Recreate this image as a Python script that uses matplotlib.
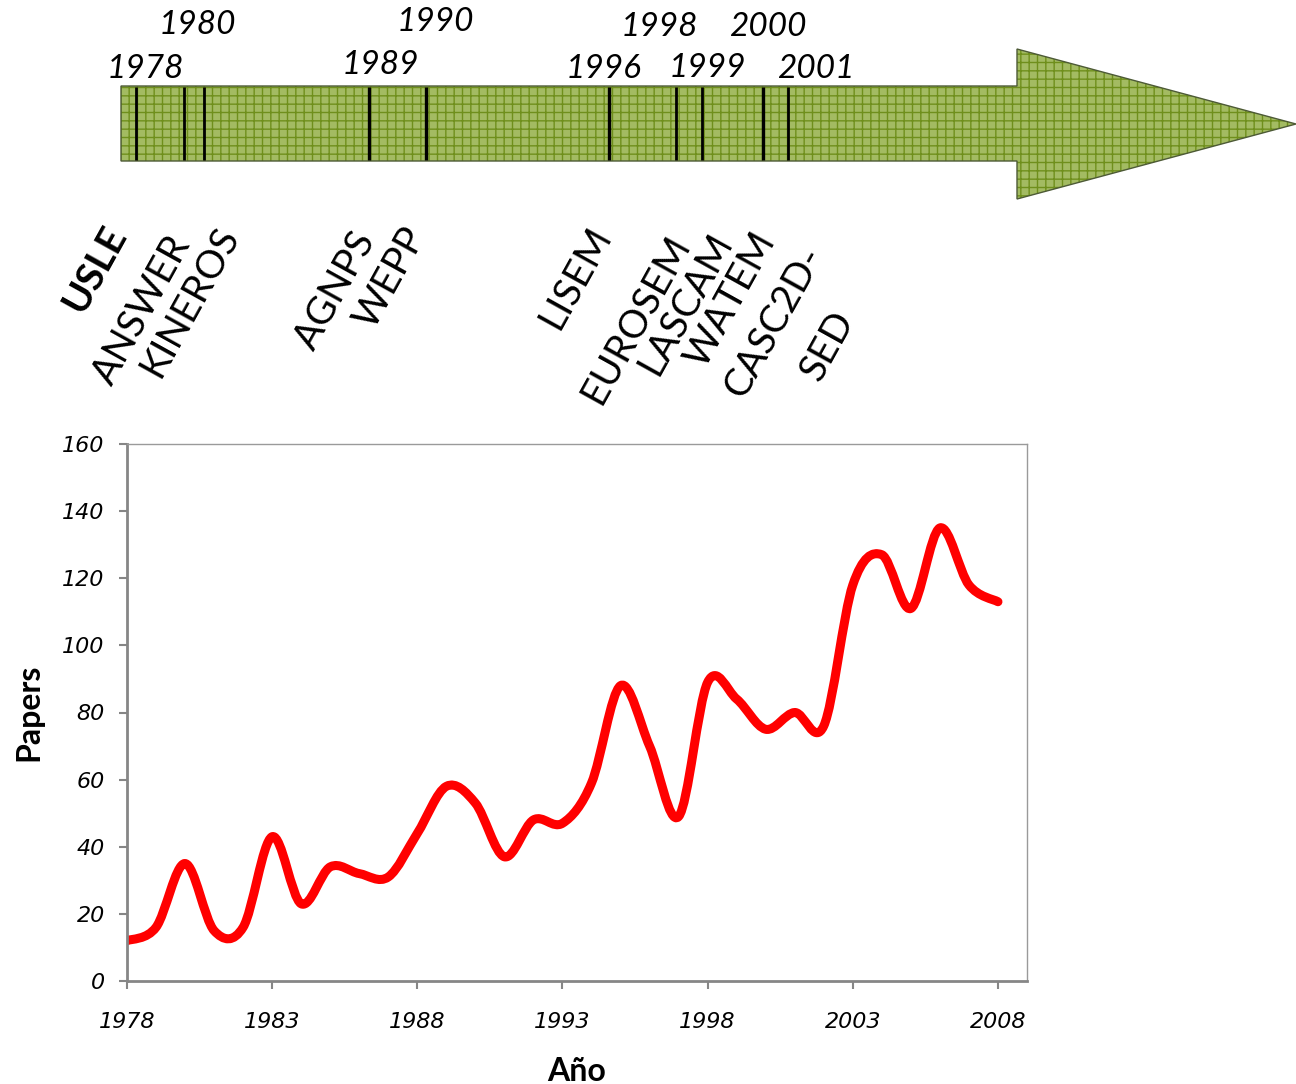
import numpy as np
import matplotlib
matplotlib.use("Agg")
import matplotlib.pyplot as plt
from matplotlib.path import Path
from matplotlib.patches import PathPatch, Polygon

# Publications per year
years = list(range(1978, 2009))
papers = [12, 16, 35, 15, 16, 43, 23, 34, 32, 31, 44, 58, 53, 37, 48, 47,
          59, 88, 70, 49, 89, 84, 75, 80, 76, 118, 127, 111, 135, 118, 113]

# Timeline: year labels and model names
timeline_years = ["1978", "1980", "1989", "1990", "1996", "1998", "1999", "2000", "2001"]
models = ["USLE", "ANSWER", "KINEROS", "AGNPS", "WEPP", "LISEM",
          "EUROSEM", "LASCAM", "WATEM", "CASC2D-", "SED"]

# Layout of the timeline strip (pixel units of the figure)
year_label_xy = [(145, 69), (197, 25), (380, 65), (435, 22), (604, 69),
                 (659, 27), (707, 68), (768, 27), (816, 69)]
divider_x = [136, 184, 204, 369, 426, 609, 676, 702, 763, 788]
divider_w = [2.0, 2.0, 2.0, 2.4, 2.4, 2.4, 2.0, 2.0, 2.4, 2.0]
model_xy = [(95, 269), (142, 310), (190, 302), (335, 290), (390, 278), (576, 278),
            (636, 319), (686, 304), (731, 300), (774, 322), (828, 346)]

W, H = 1296, 1084
fig = plt.figure(figsize=(W / 100, H / 100), dpi=100)
fig.patch.set_facecolor("white")

# Overlay for the timeline arrow (pixel coordinates, y downwards)
top = fig.add_axes([0, 0, 1, 1])
top.set_xlim(0, W)
top.set_ylim(H, 0)
top.axis("off")

arrow_pts = [(121, 86), (1017, 86), (1017, 49), (1296, 124),
             (1017, 199), (1017, 161), (121, 161)]
top.add_patch(Polygon(arrow_pts, closed=True, facecolor="#a3bb62",
                      edgecolor="none", zorder=1))
top.add_patch(Polygon(arrow_pts, closed=True, facecolor="none",
                      edgecolor="#6f8f1c", hatch="++", linewidth=0, zorder=2))
top.add_patch(Polygon(arrow_pts, closed=True, facecolor="none",
                      edgecolor="#4d5a36", linewidth=1.0, zorder=3))

for x, lw in zip(divider_x, divider_w):
    top.plot([x, x], [87, 160], color="black", linewidth=lw,
             solid_capstyle="butt", zorder=4)

for label, (x, y) in zip(timeline_years, year_label_xy):
    top.text(x, y, label, fontsize=24, fontstyle="italic", family="Lato",
             ha="center", va="center", color="black")

for name, (x, y) in zip(models, model_xy):
    top.text(x, y, name, fontsize=28, family="Lato",
             fontweight="bold" if name == "USLE" else "normal",
             rotation=61, ha="center", va="center", color="black")

# Chart of papers per year
L, R, B, T = 127, 1027, 981, 444
ax = fig.add_axes([L / W, 1 - B / H, (R - L) / W, (B - T) / H])
ax.set_xlim(1978, 2009)
ax.set_ylim(0, 160)

# Smoothed line through the yearly values (cubic Bezier segments)
pts = np.column_stack([years, papers]).astype(float)
ext = np.vstack([pts[0], pts, pts[-1]])
verts = [tuple(pts[0])]
codes = [Path.MOVETO]
for i in range(1, len(ext) - 2):
    p0, p1, p2, p3 = ext[i - 1], ext[i], ext[i + 1], ext[i + 2]
    c1 = p1 + (p2 - p0) / 6.0
    c2 = p2 - (p3 - p1) / 6.0
    verts += [tuple(c1), tuple(c2), tuple(p2)]
    codes += [Path.CURVE4] * 3
ax.add_patch(PathPatch(Path(verts, codes), facecolor="none", edgecolor="#ff0000",
                       linewidth=6.5, capstyle="round", joinstyle="round"))

ax.set_yticks(range(0, 161, 20))
ax.set_xticks(range(1978, 2009, 5))
ax.tick_params(axis="both", direction="out", length=6, width=1.5, color="#868686",
               labelsize=16)
ax.tick_params(axis="y", pad=10)
ax.tick_params(axis="x", pad=16)
for lab in ax.get_xticklabels() + ax.get_yticklabels():
    lab.set_fontstyle("italic")
    lab.set_family("DejaVu Sans")

for side in ["left", "bottom"]:
    ax.spines[side].set_color("#868686")
    ax.spines[side].set_linewidth(2)
for side in ["top", "right"]:
    ax.spines[side].set_color("#9a9a9a")
    ax.spines[side].set_linewidth(1)

ax.set_ylabel("Papers", fontsize=23, fontweight="bold", family="Lato", labelpad=14)
ax.set_xlabel("Año", fontsize=23, fontweight="bold", family="Lato", labelpad=18)

fig.savefig("out.png", dpi=100, facecolor="white")
